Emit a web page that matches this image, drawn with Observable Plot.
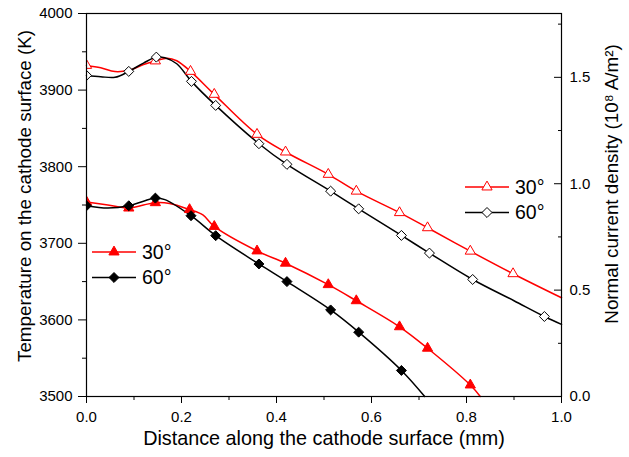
<!DOCTYPE html>
<html><head><meta charset="utf-8">
<script src="https://cdn.jsdelivr.net/npm/d3@7"></script>
<script src="https://cdn.jsdelivr.net/npm/@observablehq/plot@0.6"></script>
<style>body{margin:0;background:#fff;}</style>
</head><body><div id="chart"></div>
<script>
// ---- axes / ticks ----
const xMajorTicks = [0, 0.2, 0.4, 0.6, 0.8, 1.0];
const xMinorTicks = [0.1, 0.3, 0.5, 0.7, 0.9];
const tMajorTicks = [3500, 3600, 3700, 3800, 3900, 4000];
const tMinorTicks = [3550, 3650, 3750, 3850, 3950];
const jMajorTicks = [0, 0.5, 1.0, 1.5];
const jMinorTicks = [0.25, 0.75, 1.25, 1.75];
const tDomain = [3500, 4000];
const jDomain = [0, 1.8];
const series = ["30°", "60°"];
const xLabel = "Distance along the cathode surface (mm)";
const tLabel = "Temperature on the cathode surface (K)";
const jLabel = "Normal current density (10⁸ A/m²)";

// ---- temperature (K), filled markers, left axis ----
const t30LineX = [0, 0.045, 0.089, 0.12, 0.145, 0.175, 0.217, 0.245, 0.269, 0.359, 0.419, 0.509, 0.568, 0.659, 0.718, 0.808, 0.829];
const t30LineY = [3754, 3750, 3746, 3750, 3753, 3752, 3744, 3737, 3722, 3690, 3674, 3646, 3625, 3591, 3563, 3515, 3500];
const t30MarkX = [0, 0.089, 0.145, 0.217, 0.269, 0.359, 0.419, 0.509, 0.568, 0.659, 0.718, 0.808];
const t30MarkY = [3754, 3746, 3753, 3744, 3722, 3690, 3674, 3646, 3625, 3591, 3563, 3515];

const t60LineX = [0, 0.045, 0.089, 0.12, 0.145, 0.165, 0.22, 0.272, 0.363, 0.422, 0.514, 0.573, 0.663, 0.712];
const t60LineY = [3749, 3746, 3749, 3755, 3759, 3757, 3736, 3710, 3673, 3650, 3613, 3584, 3534, 3500];
const t60MarkX = [0, 0.089, 0.145, 0.22, 0.272, 0.363, 0.422, 0.514, 0.573, 0.663];
const t60MarkY = [3749, 3749, 3759, 3736, 3710, 3673, 3650, 3613, 3584, 3534];

// ---- normal current density (10^8 A/m^2), open markers, right axis ----
const j30LineX = [0, 0.03, 0.06, 0.089, 0.12, 0.145, 0.17, 0.19, 0.219, 0.269, 0.359, 0.419, 0.509, 0.568, 0.659, 0.718, 0.808, 0.898, 1.0];
const j30LineY = [1.556, 1.545, 1.527, 1.533, 1.56, 1.577, 1.59, 1.578, 1.528, 1.42, 1.232, 1.149, 1.044, 0.965, 0.864, 0.793, 0.683, 0.577, 0.464];
const j30MarkX = [0, 0.145, 0.219, 0.269, 0.359, 0.419, 0.509, 0.568, 0.659, 0.718, 0.808, 0.898];
const j30MarkY = [1.556, 1.577, 1.528, 1.42, 1.232, 1.149, 1.044, 0.965, 0.864, 0.793, 0.683, 0.577];

const j60LineX = [0, 0.03, 0.06, 0.089, 0.12, 0.147, 0.165, 0.19, 0.221, 0.272, 0.363, 0.422, 0.514, 0.573, 0.663, 0.722, 0.813, 0.9, 0.964, 1.0];
const j60LineY = [1.509, 1.503, 1.500, 1.528, 1.567, 1.595, 1.592, 1.564, 1.481, 1.368, 1.188, 1.091, 0.965, 0.882, 0.757, 0.674, 0.55, 0.45, 0.376, 0.339];
const j60MarkX = [0, 0.089, 0.147, 0.221, 0.272, 0.363, 0.422, 0.514, 0.573, 0.663, 0.722, 0.813, 0.964];
const j60MarkY = [1.509, 1.528, 1.595, 1.481, 1.368, 1.188, 1.091, 0.965, 0.882, 0.757, 0.674, 0.55, 0.376];

// map right-axis values onto the shared y scale
const toT = j => tDomain[0] + (j - jDomain[0]) * (tDomain[1] - tDomain[0]) / (jDomain[1] - jDomain[0]);
const fromT = t => jDomain[0] + (t - tDomain[0]) * (jDomain[1] - jDomain[0]) / (tDomain[1] - tDomain[0]);
const rowsT = (xs, ys) => xs.map((x, i) => ({x, y: ys[i]}));
const rowsJ = (xs, ys) => xs.map((x, i) => ({x, y: toT(ys[i])}));

const RED = "#ff0000", BLACK = "#000000";
const FONT = "'Liberation Sans', Arial, sans-serif";
const lineOpts = (c) => ({x: "x", y: "y", stroke: c, strokeWidth: 1.5, curve: "catmull-rom"});

const chart = Plot.plot({
  width: 629, height: 457,
  marginLeft: 86, marginRight: 68, marginTop: 13, marginBottom: 61,
  style: {fontFamily: FONT, fontSize: "15px", color: "black", background: "white"},
  x: {domain: [0, 1]},
  y: {domain: tDomain},
  marks: [
    Plot.line(rowsJ(j30LineX, j30LineY), lineOpts(RED)),
    Plot.line(rowsJ(j60LineX, j60LineY), lineOpts(BLACK)),
    Plot.line(rowsT(t30LineX, t30LineY), lineOpts(RED)),
    Plot.line(rowsT(t60LineX, t60LineY), lineOpts(BLACK)),
    Plot.dot(rowsJ(j30MarkX, j30MarkY), {x: "x", y: "y", symbol: "triangle", r: 3.8, stroke: RED, fill: "white", strokeWidth: 1, clip: true}),
    Plot.dot(rowsJ(j60MarkX, j60MarkY), {x: "x", y: "y", symbol: "diamond2", r: 4.5, stroke: BLACK, fill: "white", strokeWidth: 1, clip: true}),
    Plot.dot(rowsT(t30MarkX, t30MarkY), {x: "x", y: "y", symbol: "triangle", r: 3.8, stroke: RED, fill: RED, strokeWidth: 1, clip: true}),
    Plot.dot(rowsT(t60MarkX, t60MarkY), {x: "x", y: "y", symbol: "diamond2", r: 4.5, stroke: BLACK, fill: BLACK, strokeWidth: 1, clip: true}),
    Plot.frame({stroke: "black", strokeWidth: 1.2}),
    Plot.axisX({ticks: xMajorTicks, tickSize: 7, tickPadding: 8, tickFormat: d => d.toFixed(1), label: null}),
    Plot.axisX({ticks: xMinorTicks, tickSize: 4, tickFormat: () => "", label: null}),
    Plot.axisY({ticks: tMajorTicks, tickSize: 8, tickPadding: 6, tickFormat: d => String(d), label: null}),
    Plot.axisY({ticks: tMinorTicks, tickSize: 4, tickFormat: () => "", label: null}),
    Plot.axisY({anchor: "right", ticks: jMajorTicks.map(toT), tickSize: -8, fill: "none", label: null}),
    Plot.axisY({anchor: "right", ticks: jMinorTicks.map(toT), tickSize: -4, fill: "none", label: null}),
    Plot.axisY({anchor: "right", ticks: jMajorTicks.map(toT), tickSize: 0, tickPadding: 8, tickFormat: d => fromT(d).toFixed(1), label: null}),
    Plot.text([xLabel], {text: d => d, frameAnchor: "bottom", textAnchor: "middle", dy: 48, fontSize: 19.8}),
    Plot.text([tLabel], {text: d => d, frameAnchor: "left", textAnchor: "middle", dx: -62, dy: -9, rotate: -90, fontSize: 18.8}),
    Plot.text([jLabel], {text: d => d, frameAnchor: "right", textAnchor: "middle", dx: 50, dy: -21, rotate: -90, fontSize: 18.8})
  ]
});
document.getElementById("chart").appendChild(chart);

// ---- legends (placed inside the plot area) ----
const svg = d3.select(chart);
function legend(x0, y0, filled) {
  const g = svg.append("g").attr("font-family", FONT).attr("font-size", 19.5).attr("text-anchor", "start");
  series.forEach((s, i) => {
    const c = i === 0 ? RED : BLACK;
    const y = y0 + i * 25.5;
    g.append("line").attr("x1", x0).attr("x2", x0 + 44).attr("y1", y).attr("y2", y).attr("stroke", c).attr("stroke-width", 1.5);
    const sym = i === 0 ? d3.symbol(d3.symbolTriangle, 3.8 * 3.8 * Math.PI) : d3.symbol(d3.symbolDiamond2, 4.5 * 4.5 * Math.PI);
    g.append("path").attr("d", sym()).attr("transform", `translate(${x0 + 22},${y})`)
      .attr("stroke", c).attr("fill", filled ? c : "white").attr("stroke-width", 1);
    g.append("text").attr("x", x0 + 50).attr("y", y).attr("dy", "0.35em").attr("fill", "black").attr("text-anchor", "start").text(s);
  });
}
legend(92, 252, true);
legend(465, 187, false);
</script>
</body></html>
